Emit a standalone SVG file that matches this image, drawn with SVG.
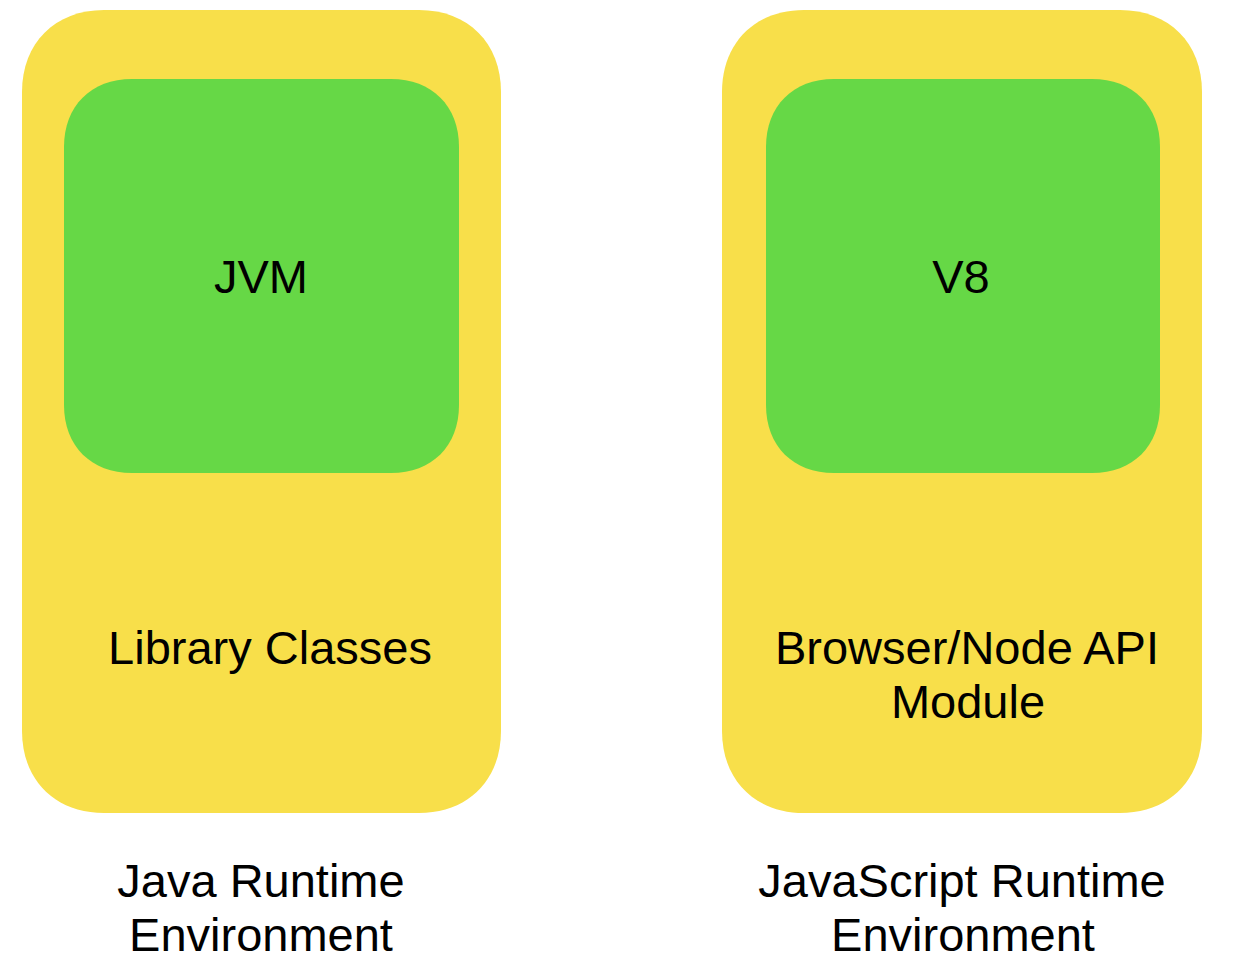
<svg xmlns="http://www.w3.org/2000/svg" width="1244" height="972" viewBox="0 0 1244 972">
<style>
.outer{fill:#F8DF4A}
.inner{fill:#66D846}
text{font-family:"Liberation Sans",Arial,sans-serif;font-size:47px;fill:#000;text-anchor:middle}
</style>
<rect width="1244" height="972" fill="#fff"/>
<g id="jre">
<path class="outer" d="M104,10 H419 C468,10 501,43 501,92 V731 C501,780 468,813 419,813 H104 C55,813 22,780 22,731 V92 C22,43 55,10 104,10 Z"/>
<text x="270" y="664">Library Classes</text>
</g>
<g id="jvm">
<path class="inner" d="M132,79 H391 C432,79 459,106 459,147 V405 C459,446 432,473 391,473 H132 C91,473 64,446 64,405 V147 C64,106 91,79 132,79 Z"/>
<text x="261" y="293">JVM</text>
</g>
<g id="jsre">
<path class="outer" d="M804,10 H1120 C1169,10 1202,43 1202,92 V731 C1202,780 1169,813 1120,813 H804 C755,813 722,780 722,731 V92 C722,43 755,10 804,10 Z"/>
<text x="967" y="664">Browser/Node API</text>
<text x="968" y="718">Module</text>
</g>
<g id="v8">
<path class="inner" d="M834,79 H1092 C1133,79 1160,106 1160,147 V405 C1160,446 1133,473 1092,473 H834 C793,473 766,446 766,405 V147 C766,106 793,79 834,79 Z"/>
<text x="961" y="293">V8</text>
</g>
<g id="label-java">
<text x="261" y="897">Java Runtime</text>
<text x="261" y="951">Environment</text>
</g>
<g id="label-js">
<text x="962" y="897">JavaScript Runtime</text>
<text x="963" y="951">Environment</text>
</g>
<g id="connectors"></g>
</svg>
